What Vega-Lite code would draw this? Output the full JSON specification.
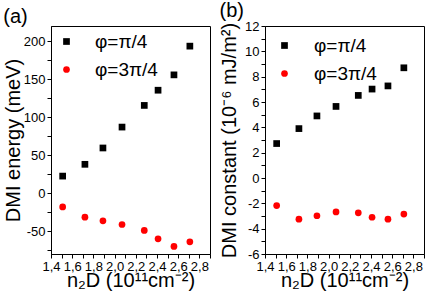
{
  "$schema": "https://vega.github.io/schema/vega-lite/v6.json",
  "padding": {"left": 2, "top": 0, "right": 2, "bottom": 0},
  "background": "white",
  "config": {
    "font": "Liberation Sans",
    "view": {"stroke": "black", "strokeWidth": 1},
    "axis": {"grid": false, "domainColor": "black", "tickColor": "black", "labelColor": "black", "titleColor": "black", "labelFontSize": 13, "titleFontSize": 20, "titleFontWeight": "normal", "labelOverlap": false, "labelFlush": false, "labelPadding": 2, "tickWidth": 1, "tickSize": 4},
    "legend": {"labelFontSize": 19, "labelColor": "black", "padding": 0, "symbolStrokeWidth": 0, "symbolSize": 45, "rowPadding": 8, "labelOffset": 19, "orient": "top-left"},
    "title": {"fontSize": 20, "fontWeight": "normal", "color": "black", "anchor": "start", "frame": "bounds", "offset": -1}
  },
  "data": {"values": [
    {"n": 1.51, "phi": "φ=π/4", "E": 22.5, "D": 2.72},
    {"n": 1.72, "phi": "φ=π/4", "E": 38, "D": 3.9},
    {"n": 1.89, "phi": "φ=π/4", "E": 59.5, "D": 4.9},
    {"n": 2.07, "phi": "φ=π/4", "E": 87, "D": 5.65},
    {"n": 2.28, "phi": "φ=π/4", "E": 115.5, "D": 6.52},
    {"n": 2.41, "phi": "φ=π/4", "E": 135.5, "D": 7.02},
    {"n": 2.56, "phi": "φ=π/4", "E": 155.7, "D": 7.27},
    {"n": 2.71, "phi": "φ=π/4", "E": 193.5, "D": 8.7},
    {"n": 1.51, "phi": "φ=3π/4", "E": -18, "D": -2.18},
    {"n": 1.72, "phi": "φ=3π/4", "E": -31.5, "D": -3.25},
    {"n": 1.89, "phi": "φ=3π/4", "E": -36.4, "D": -2.98},
    {"n": 2.07, "phi": "φ=3π/4", "E": -41.2, "D": -2.68},
    {"n": 2.28, "phi": "φ=3π/4", "E": -49, "D": -2.75},
    {"n": 2.41, "phi": "φ=3π/4", "E": -60, "D": -3.1},
    {"n": 2.56, "phi": "φ=3π/4", "E": -70, "D": -3.25},
    {"n": 2.71, "phi": "φ=3π/4", "E": -64, "D": -2.85}
  ]},
  "spacing": 8,
  "resolve": {"legend": {"color": "independent", "shape": "independent"}},
  "hconcat": [
    {
      "title": {"text": "(a)"},
      "width": 159,
      "height": 228,
      "mark": {"type": "point", "filled": true, "opacity": 1, "size": 45},
      "encoding": {
        "x": {"field": "n", "type": "quantitative", "scale": {"domain": [1.4, 2.9], "nice": false, "zero": false},
          "axis": {"orient": "bottom", "title": "n₂D (10¹¹cm⁻²)", "titlePadding": -3,
            "values": [1.4, 1.5, 1.6, 1.7, 1.8, 1.9, 2.0, 2.1, 2.2, 2.3, 2.4, 2.5, 2.6, 2.7, 2.8, 2.9],
            "labelExpr": "round(datum.value*10) % 2 == 0 ? replace(format(datum.value, '.1f'), '.', ',') : ''"}},
        "y": {"field": "E", "type": "quantitative", "scale": {"domain": [-80, 220], "nice": false, "zero": false},
          "axis": {"orient": "left", "title": "DMI energy (meV)", "titlePadding": 0,
            "values": [-75, -50, -25, 0, 25, 50, 75, 100, 125, 150, 175, 200],
            "labelExpr": "datum.value % 50 == 0 ? '' + datum.value : ''"}},
        "color": {"field": "phi", "type": "nominal", "scale": {"domain": ["φ=π/4", "φ=3π/4"], "range": ["black", "red"]}, "legend": {"title": null, "offset": 6}},
        "shape": {"field": "phi", "type": "nominal", "scale": {"domain": ["φ=π/4", "φ=3π/4"], "range": ["square", "circle"]}, "legend": {"title": null, "offset": 6}}
      }
    },
    {
      "title": {"text": "(b)"},
      "width": 159,
      "height": 228,
      "mark": {"type": "point", "filled": true, "opacity": 1, "size": 45},
      "encoding": {
        "x": {"field": "n", "type": "quantitative", "scale": {"domain": [1.4, 2.9], "nice": false, "zero": false},
          "axis": {"orient": "bottom", "title": "n₂D (10¹¹cm⁻²)", "titlePadding": -3,
            "values": [1.4, 1.5, 1.6, 1.7, 1.8, 1.9, 2.0, 2.1, 2.2, 2.3, 2.4, 2.5, 2.6, 2.7, 2.8, 2.9],
            "labelExpr": "round(datum.value*10) % 2 == 0 ? replace(format(datum.value, '.1f'), '.', ',') : ''"}},
        "y": {"field": "D", "type": "quantitative", "scale": {"domain": [-6, 12], "nice": false, "zero": false},
          "axis": {"orient": "left", "title": "DMI constant (10⁻⁶ mJ/m²)", "titlePadding": 5,
            "values": [-6, -5, -4, -3, -2, -1, 0, 1, 2, 3, 4, 5, 6, 7, 8, 9, 10, 11, 12],
            "labelExpr": "datum.value % 2 == 0 ? '' + datum.value : ''"}},
        "color": {"field": "phi", "type": "nominal", "scale": {"domain": ["φ=π/4", "φ=3π/4"], "range": ["black", "red"]}, "legend": {"title": null, "offset": 10, "labelOffset": 20}},
        "shape": {"field": "phi", "type": "nominal", "scale": {"domain": ["φ=π/4", "φ=3π/4"], "range": ["square", "circle"]}, "legend": {"title": null, "offset": 10, "labelOffset": 20}}
      }
    }
  ]
}
